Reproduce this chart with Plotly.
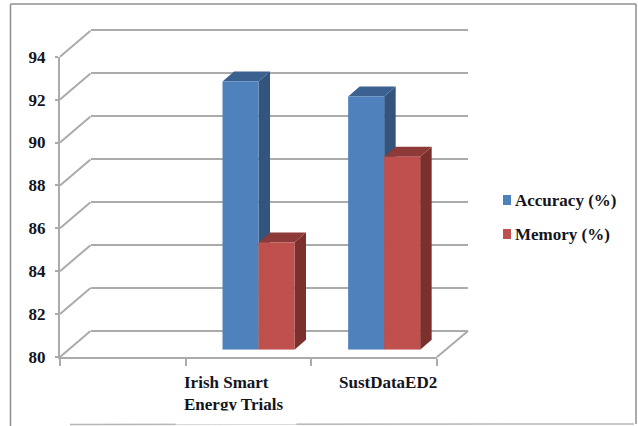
import plotly.graph_objects as go

categories = ["", "Irish Smart<br>Energy Trials", "SustDataED2"]
positions = [0.5, 1.5, 2.5]
accuracy = [None, 92.5, 91.8]
memory = [None, 85.0, 89.0]
y_ticks = [80, 82, 84, 86, 88, 90, 92, 94]
series_names = ["Accuracy (%)", "Memory (%)"]

W, H = 638, 426
FONT = "Liberation Serif"
TXT = "#14141c"
GRID = "#ababab"
BLUE, BLUE_TOP, BLUE_SIDE = "#4f81bd", "#3b6190", "#32547d"
RED, RED_TOP, RED_SIDE = "#c0504d", "#8e3a38", "#7b302e"
BARGAP = 0.427
DEPTH_X = 11.5 / 125.67   # bar depth, in x-axis units
DEPTH_Y = 10 / 21.45      # bar depth, in y-axis units


def dom_x(a, b):
    return [a / W, b / W]


def dom_y(top, bottom):
    return [1 - bottom / H, 1 - top / H]


def px(x, y):
    return dict(xref="paper", yref="paper", x0=x[0] / W, x1=x[1] / W,
                y0=1 - y[0] / H, y1=1 - y[1] / H)


fig = go.Figure()
bw = (1 - BARGAP) / 2


def faces(pos, val, left, top_col, side_col):
    if val is None:
        return
    r = left + bw
    fig.add_trace(go.Scatter(
        x=[r, r + DEPTH_X, r + DEPTH_X, r, r],
        y=[val, val + DEPTH_Y, 80 + DEPTH_Y, 80, val],
        fill="toself", fillcolor=side_col, mode="none",
        xaxis="x3", yaxis="y3", showlegend=False, hoverinfo="skip"))
    fig.add_trace(go.Scatter(
        x=[left, left + DEPTH_X, r + DEPTH_X, r, left],
        y=[val, val + DEPTH_Y, val + DEPTH_Y, val, val],
        fill="toself", fillcolor=top_col, mode="none",
        xaxis="x3", yaxis="y3", showlegend=False, hoverinfo="skip"))


# carrier for the back-wall subplot and the front axis subplot
fig.add_trace(go.Scatter(x=[None], y=[None], xaxis="x", yaxis="y", showlegend=False))
fig.add_trace(go.Scatter(x=[None], y=[None], xaxis="x2", yaxis="y2", showlegend=False))

for p, v in zip(positions, accuracy):
    faces(p, v, p - bw, BLUE_TOP, BLUE_SIDE)
for p, v in zip(positions, memory):
    faces(p, v, p, RED_TOP, RED_SIDE)

fig.add_trace(go.Bar(x=positions, y=[None if v is None else v - 80 for v in accuracy], base=80,
                     name=series_names[0], marker=dict(color=BLUE, line_width=0),
                     xaxis="x4", yaxis="y4", showlegend=False))
fig.add_trace(go.Bar(x=positions, y=[None if v is None else v - 80 for v in memory], base=80,
                     name=series_names[1], marker=dict(color=RED, line_width=0),
                     xaxis="x4", yaxis="y4", showlegend=False))

hidden = dict(showgrid=False, zeroline=False, showticklabels=False, ticks="", showline=False,
              automargin=False)
x_range = [0, 3]
y_range = [80, 94]

shapes = []
# picture frame
BORDER = "#8f8f8f"
shapes.append(dict(type="line", line=dict(color=BORDER, width=1.5), **px((10.5, 636), (4, 4))))
shapes.append(dict(type="line", line=dict(color=BORDER, width=1.5), **px((10.5, 10.5), (4, 426))))
shapes.append(dict(type="line", line=dict(color=BORDER, width=1.5), **px((636, 636), (4, 424))))
shapes.append(dict(type="line", line=dict(color="#b5b5b5", width=1.5), **px((70, 634), (424.5, 424))))
# floor and side-wall diagonals
for t in y_ticks:
    yf = 357 - (t - 80) * 300.3 / 14
    shapes.append(dict(type="line", layer="below", line=dict(color=GRID, width=2),
                       **px((60, 90.5), (yf, yf - 26))))
shapes.append(dict(type="line", layer="below", line=dict(color=GRID, width=2),
                   **px((437, 468), (357, 331))))
# legend swatches
shapes.append(dict(type="rect", fillcolor=BLUE, line_width=0, **px((503, 511), (195, 205))))
shapes.append(dict(type="rect", fillcolor=RED, line_width=0, **px((503, 511), (229, 239))))

annotations = []
label_px = {1: 183, 2: 338}
for i, left in label_px.items():
    annotations.append(dict(text=categories[i], xref="paper", yref="paper",
                            x=left / W, y=1 - 372 / H, xanchor="left", yanchor="top",
                            align="left", showarrow=False, borderpad=0,
                            font=dict(family=FONT, size=17, color=TXT, weight="bold")))
# the source picture crops the second label line
annotations.append(dict(text=" ", xref="paper", yref="paper", x=175 / W, y=1 - 409.5 / H,
                        xanchor="left", yanchor="top", showarrow=False, width=120, height=13,
                        bgcolor="white", borderpad=0))
for name, yc in zip(series_names, [200, 234.5]):
    annotations.append(dict(text=name, xref="paper", yref="paper",
                            x=514 / W, y=1 - yc / H, xanchor="left", yanchor="middle",
                            showarrow=False, borderpad=0,
                            font=dict(family=FONT, size=17, color=TXT, weight="bold")))

fig.update_layout(
    width=W, height=H, autosize=False,
    margin=dict(l=0, r=0, t=0, b=0),
    paper_bgcolor="white", plot_bgcolor="rgba(0,0,0,0)",
    barmode="group", bargap=BARGAP, bargroupgap=0,
    showlegend=False,
    shapes=shapes, annotations=annotations,
    # back wall (range padded so the 80 and 94 lines are kept)
    xaxis=dict(domain=dom_x(90.5, 468), range=x_range, **hidden),
    yaxis=dict(domain=dom_y(27.85, 333.15), range=[79.9, 94.1], tickvals=y_ticks, showgrid=True,
               gridcolor=GRID, gridwidth=2, zeroline=False, showticklabels=False,
               ticks="", showline=False, automargin=False),
    # front axes
    xaxis2=dict(domain=dom_x(60, 437), range=x_range, tickvals=[0, 1, 2, 3],
                ticktext=["", "", "", ""], ticks="outside", ticklen=7, tickwidth=1.5,
                tickcolor=GRID, showline=True, linecolor=GRID, linewidth=2,
                showgrid=False, zeroline=False, anchor="y2", automargin=False),
    yaxis2=dict(domain=dom_y(56.7, 357), range=y_range, tickvals=y_ticks,
                ticks="outside", ticklen=3, tickwidth=1.5, tickcolor=GRID,
                showline=True, linecolor=GRID, linewidth=2, showgrid=False, zeroline=False,
                ticklabelstandoff=6, anchor="x2", automargin=False,
                tickfont=dict(family=FONT, size=17, color=TXT, weight="bold")),
    # bar depth faces and bar fronts
    xaxis3=dict(domain=dom_x(70, 447), range=x_range, anchor="y3", **hidden),
    yaxis3=dict(domain=dom_y(49.4, 349.7), range=y_range, anchor="x3", **hidden),
    xaxis4=dict(domain=dom_x(70, 447), range=x_range, anchor="y4", **hidden),
    yaxis4=dict(domain=dom_y(49.4, 349.7), range=y_range, anchor="x4", **hidden),
)

fig.write_html("out.html", config=dict(displayModeBar=False),
               post_script="document.body.style.margin='0';")
